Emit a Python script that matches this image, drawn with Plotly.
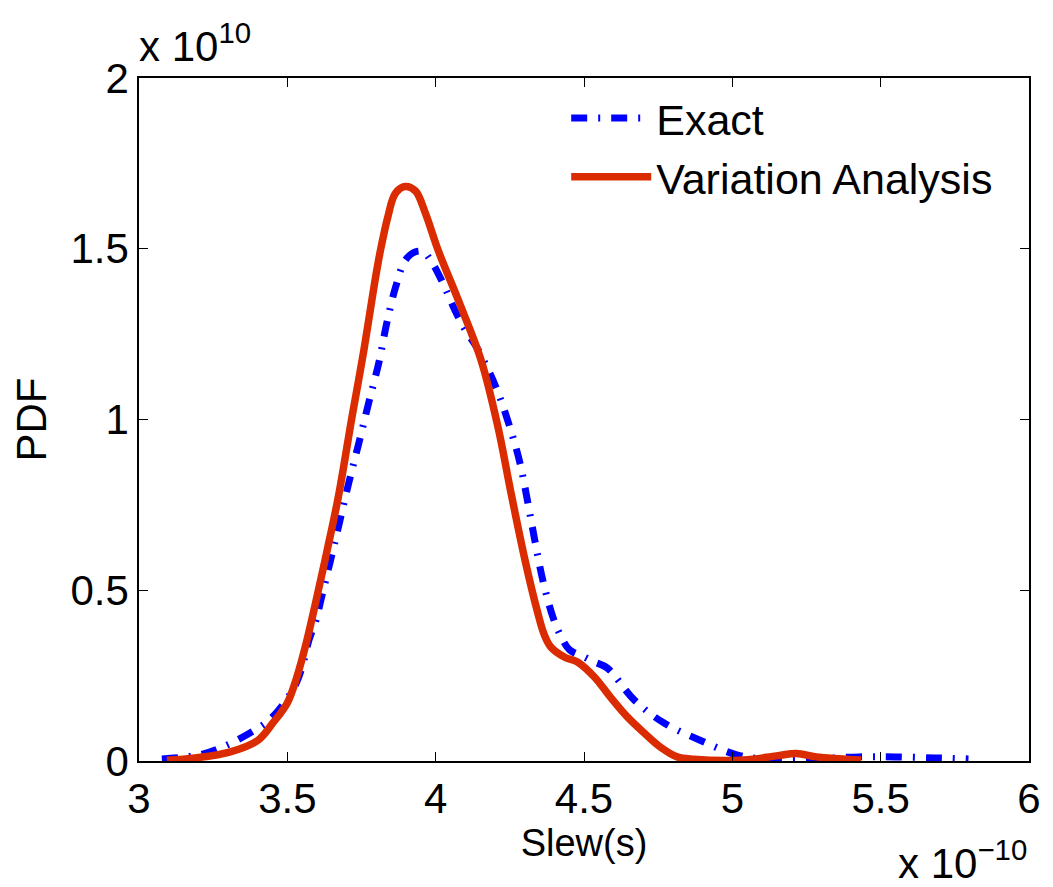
import plotly.graph_objects as go

# Slew values (units of 1e-10 s) and PDF values (units of 1e10)
exact_x = [3.077, 3.204, 3.282, 3.362, 3.439, 3.496, 3.530, 3.550, 3.573, 3.597, 3.613,
           3.660, 3.707, 3.741, 3.774, 3.808, 3.835, 3.865, 3.898, 3.932, 3.959, 3.986,
           4.019, 4.066, 4.100, 4.143, 4.203, 4.250, 4.284, 4.311, 4.334, 4.361, 4.395,
           4.425, 4.452, 4.500, 4.535, 4.579, 4.669, 4.770, 4.891, 5.015, 5.105, 5.259,
           5.427, 5.551, 5.685, 5.796]
exact_y = [0.006, 0.018, 0.041, 0.076, 0.120, 0.178, 0.228, 0.275, 0.354, 0.413, 0.471,
           0.640, 0.814, 0.931, 1.048, 1.165, 1.282, 1.388, 1.467, 1.491, 1.491, 1.462,
           1.409, 1.318, 1.262, 1.204, 1.095, 0.978, 0.873, 0.755, 0.647, 0.530, 0.422,
           0.360, 0.325, 0.305, 0.290, 0.272, 0.179, 0.111, 0.061, 0.018, 0.006, 0.006,
           0.012, 0.012, 0.009, 0.006]

va_x = [3.094, 3.190, 3.305, 3.400, 3.450, 3.500, 3.530, 3.563, 3.597, 3.635, 3.672,
        3.718, 3.758, 3.794, 3.814, 3.839, 3.864, 3.897, 3.932, 3.965, 4.009, 4.076,
        4.153, 4.210, 4.254, 4.301, 4.344, 4.366, 4.388, 4.435, 4.478, 4.535, 4.589,
        4.646, 4.703, 4.757, 4.814, 4.871, 5.038, 5.149, 5.216, 5.283, 5.434]
va_y = [0.002, 0.009, 0.026, 0.060, 0.110, 0.170, 0.240, 0.343, 0.470, 0.620, 0.774,
        1.008, 1.203, 1.399, 1.496, 1.594, 1.662, 1.682, 1.669, 1.605, 1.494, 1.350,
        1.174, 0.978, 0.785, 0.589, 0.434, 0.370, 0.334, 0.304, 0.290, 0.246, 0.187,
        0.129, 0.082, 0.041, 0.012, 0.005, 0.003, 0.015, 0.022, 0.012, 0.003]

x_ticks = [3, 3.5, 4, 4.5, 5, 5.5, 6]
x_tick_labels = ["3", "3.5", "4", "4.5", "5", "5.5", "6"]
y_ticks = [0, 0.5, 1, 1.5, 2]
y_tick_labels = ["0", "0.5", "1", "1.5", "2"]

FONT = "Liberation Sans, Arial, Helvetica, sans-serif"
BLUE = "#0000FF"
RED = "#DA2C00"

fig = go.Figure()
fig.add_trace(go.Scatter(x=exact_x, y=exact_y, mode="lines", name="Exact",
                         line=dict(color=BLUE, width=7, dash="16px,11px,2px,11px",
                                   shape="spline", smoothing=1.0)))
fig.add_trace(go.Scatter(x=va_x, y=va_y, mode="lines", name="Variation Analysis",
                         line=dict(color=RED, width=7.5, shape="spline", smoothing=1.0)))

axis_common = dict(showline=True, linecolor="black", linewidth=1.5, mirror="ticks",
                   ticks="inside", ticklen=9, tickwidth=1.2, tickcolor="black",
                   showgrid=False, zeroline=False,
                   tickfont=dict(family=FONT, size=42, color="black"))

fig.update_xaxes(range=[3, 6], tickvals=x_ticks, ticktext=x_tick_labels,
                 title=dict(text="Slew(s)", font=dict(family=FONT, size=38, color="black"), standoff=4),
                 **axis_common)
fig.update_yaxes(range=[0, 2], tickvals=y_ticks, ticktext=y_tick_labels,
                 title=dict(text="PDF", font=dict(family=FONT, size=42, color="black"), standoff=18),
                 **axis_common)

fig.add_annotation(xref="paper", yref="paper", x=0.0, y=1.0, xanchor="left", yanchor="bottom",
                   xshift=-2, yshift=6, text="x 10<sup>10</sup>", showarrow=False,
                   font=dict(family=FONT, size=42, color="black"))
fig.add_annotation(xref="paper", yref="paper", x=1.0, y=0.0, xanchor="right", yanchor="top",
                   yshift=-70, text="x 10<sup>\u221210</sup>", showarrow=False,
                   font=dict(family=FONT, size=42, color="black"))

# page body has an 8px margin, so figure is 8px smaller and margins shifted
fig.update_layout(
    width=1045, height=879,
    margin=dict(l=131, r=19, t=70, b=126),
    paper_bgcolor="white", plot_bgcolor="white",
    showlegend=True,
    legend=dict(x=0.48, y=0.992, xanchor="left", yanchor="top", bgcolor="rgba(0,0,0,0)",
                borderwidth=0, font=dict(family=FONT, size=43, color="black"),
                itemwidth=80, tracegroupgap=0),
)

fig.write_html("out.html")
